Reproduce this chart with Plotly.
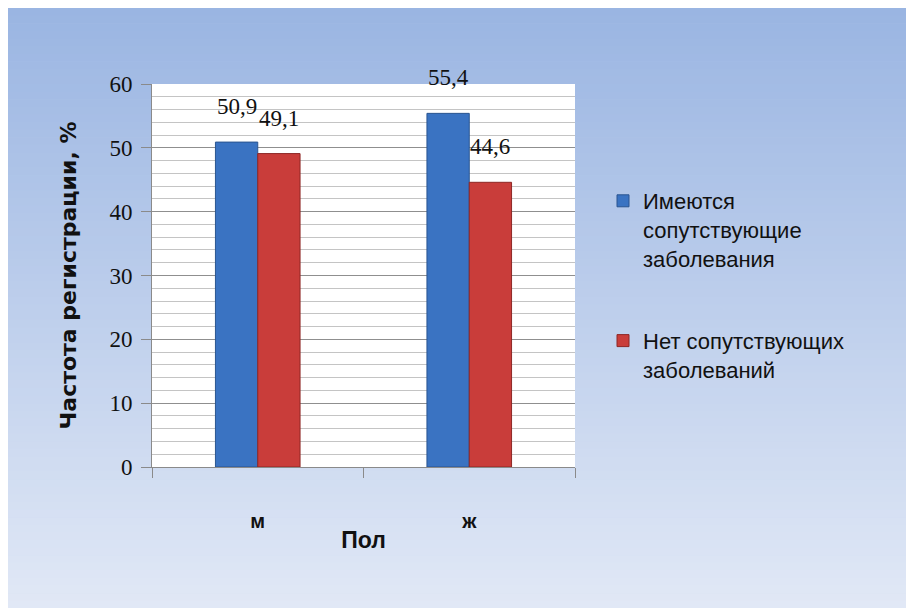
import plotly.graph_objects as go

categories = ["м", "ж"]
series_names = ["Имеются<br>сопутствующие<br>заболевания", "Нет сопутствующих<br>заболеваний"]
with_disease = [50.9, 55.4]
without_disease = [49.1, 44.6]
y_ticks = [0, 10, 20, 30, 40, 50, 60]

W, H = 914, 608
L, R, T, B = 144, 567, 76, 459  # plot area in figure pixels


def px2paper_x(px):
    return (px - L) / (R - L)


def px2paper_y(py):
    return (B - py) / (B - T)


fig = go.Figure()
fig.add_trace(go.Bar(
    name=series_names[0], x=categories, y=with_disease,
    marker=dict(color="#3A73C2", line=dict(color="#2A5590", width=1)),
    legendgroup="a",
))
fig.add_trace(go.Bar(
    name=series_names[1], x=categories, y=without_disease,
    marker=dict(color="#C93D3A", line=dict(color="#8E2725", width=1)),
    legendgroup="b",
))

# data labels
annotations = []
for vals, shift in ((with_disease, -21), (without_disease, 21)):
    for c, v in zip(categories, vals):
        annotations.append(dict(
            x=c, y=v, xref="x", yref="y", text=f"{v:.1f}".replace(".", ","),
            showarrow=False, xshift=shift, yshift=21, yanchor="bottom",
            font=dict(family="Liberation Serif", size=23, color="#111"),
        ))

# gradient background made of stripes
top_rgb = (0x9A, 0xB5, 0xE2)
bot_rgb = (0xE2, 0xE9, 0xF6)
shapes = []
y0, y1 = 0, H
n = 80
for i in range(n):
    a = y0 + (y1 - y0) * i / n
    b = y0 + (y1 - y0) * (i + 1) / n + 0.6
    t = (i + 0.5) / n
    col = tuple(round(top_rgb[k] + (bot_rgb[k] - top_rgb[k]) * t) for k in range(3))
    shapes.append(dict(
        type="rect", xref="paper", yref="paper",
        x0=px2paper_x(-2), x1=px2paper_x(W + 2),
        y0=px2paper_y(b), y1=px2paper_y(a),
        fillcolor="rgb(%d,%d,%d)" % col, line=dict(width=0), layer="below",
    ))
# white plot area drawn above the gradient
shapes.append(dict(type="rect", xref="paper", yref="paper", x0=0, x1=1, y0=0, y1=1,
                   fillcolor="white", line=dict(width=0), layer="below"))

fig.update_layout(
    width=W, height=H,
    margin=dict(l=L, r=W - R, t=T, b=H - B, autoexpand=False),
    paper_bgcolor="#C0D0EC",
    plot_bgcolor="rgba(0,0,0,0)",
    barmode="group", bargap=0.6, bargroupgap=0,
    shapes=shapes,
    annotations=annotations,
    showlegend=True,
    legend=dict(
        x=px2paper_x(595), y=px2paper_y(172), xanchor="left", yanchor="top",
        bgcolor="rgba(0,0,0,0)", tracegroupgap=51, traceorder="grouped",
        valign="top",
        font=dict(family="Liberation Sans", size=22, color="#111"),
        itemwidth=30,
    ),
    font=dict(family="Liberation Sans", color="#111"),
)

fig.update_yaxes(
    range=[0, 60], tickvals=y_ticks, ticks="outside", ticklen=10, tickcolor="#8a8a8a",
    showline=True, linecolor="#8a8a8a", linewidth=1,
    showgrid=True, gridcolor="#8f8f8f", gridwidth=1,
    minor=dict(dtick=2, showgrid=True, gridcolor="#c4c4c4", gridwidth=1),
    tickfont=dict(family="Liberation Serif", size=23, color="#111"),
    ticklabelstandoff=4,
    title=dict(text="Частота регистрации, %", standoff=26,
               font=dict(family="DejaVu Sans", size=22, color="#111", weight="bold")),
    zeroline=False,
)
fig.update_xaxes(
    ticks="outside", tickson="boundaries", ticklen=10, tickcolor="#8a8a8a",
    showline=True, linecolor="#8a8a8a", linewidth=1,
    tickfont=dict(family="Liberation Sans", size=20, color="#111", weight="bold"),
    ticklabelstandoff=36,
    title=dict(text="Пол", standoff=0,
               font=dict(family="Liberation Sans", size=23, color="#111", weight="bold")),
)

fig.write_html("out.html")
